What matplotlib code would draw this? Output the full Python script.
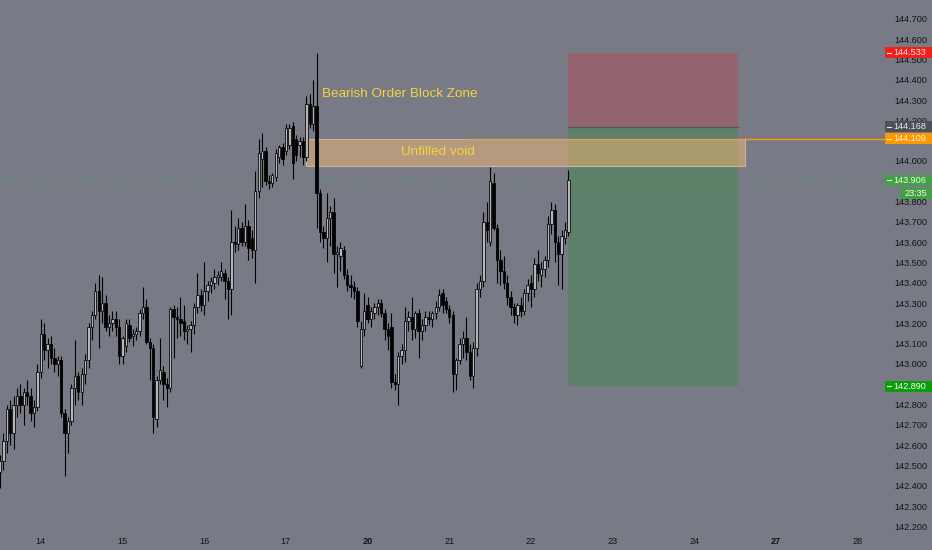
import numpy as np
import matplotlib
matplotlib.use("Agg")
import matplotlib.pyplot as plt
from matplotlib.patches import Rectangle
import matplotlib.transforms as mtransforms

# ---------------- data (hourly candles, USDJPY-like) ----------------
opens = [142.47, 142.52, 142.62, 142.78, 142.66, 142.80, 142.84, 142.80, 142.86, 142.84,
         142.76, 142.79, 142.96, 143.15, 143.07, 143.10, 143.03, 143.00, 143.02, 142.76,
         142.66, 142.72, 142.88, 142.94, 142.86, 142.95, 143.02, 143.18, 143.24, 143.36,
         143.26, 143.30, 143.18, 143.20, 143.22, 143.18, 143.04, 143.09, 143.19, 143.14,
         143.15, 143.16, 143.25, 143.28, 143.11, 143.08, 142.73, 142.92, 142.96, 142.90,
         142.88, 143.27, 143.23, 143.22, 143.21, 143.16, 143.17, 143.19, 143.28, 143.34,
         143.29, 143.36, 143.39, 143.40, 143.43, 143.43, 143.45, 143.41, 143.37, 143.60,
         143.59, 143.67, 143.60, 143.68, 143.62, 143.56, 143.85, 144.01, 144.05, 143.90,
         143.89, 143.92, 144.02, 144.07, 144.05, 144.08, 144.17, 144.11, 144.08, 144.10,
         144.02, 144.28, 144.18, 144.27, 143.84, 143.65, 143.62, 143.72, 143.75, 143.54,
         143.53, 143.56, 143.44, 143.39, 143.38, 143.36, 142.99, 143.17, 143.29, 143.22,
         143.25, 143.28, 143.30, 143.25, 143.17, 143.18, 142.91, 142.90, 143.04, 143.07,
         143.21, 143.23, 143.17, 143.25, 143.16, 143.19, 143.23, 143.22, 143.25, 143.28,
         143.35, 143.31, 143.27, 143.24, 142.95, 143.02, 143.10, 143.13, 143.06, 142.94,
         143.08, 143.37, 143.41, 143.70, 143.60, 143.89, 143.67, 143.51, 143.46, 143.40,
         143.33, 143.28, 143.24, 143.29, 143.26, 143.35, 143.40, 143.37, 143.49, 143.44,
         143.47, 143.51, 143.69, 143.76, 143.60, 143.54, 143.62, 143.65]
highs = [142.55, 142.66, 142.80, 142.82, 142.84, 142.88, 142.90, 142.88, 142.92, 142.88,
         142.82, 143.00, 143.22, 143.20, 143.13, 143.14, 143.08, 143.04, 143.04, 142.78,
         142.74, 142.90, 143.12, 142.96, 142.98, 143.05, 143.20, 143.26, 143.40, 143.44,
         143.43, 143.34, 143.24, 143.26, 143.26, 143.22, 143.14, 143.22, 143.22, 143.17,
         143.18, 143.27, 143.38, 143.32, 143.13, 143.10, 142.94, 143.13, 142.99, 142.93,
         143.28, 143.29, 143.28, 143.33, 143.29, 143.19, 143.21, 143.30, 143.45, 143.37,
         143.50, 143.41, 143.43, 143.47, 143.46, 143.50, 143.47, 143.43, 143.76, 143.68,
         143.72, 143.70, 143.79, 143.71, 143.66, 143.95, 144.11, 144.14, 144.07, 143.93,
         143.94, 144.06, 144.08, 144.09, 144.18, 144.18, 144.19, 144.13, 144.12, 144.12,
         144.32, 144.33, 144.40, 144.533, 143.86, 143.68, 143.84, 143.78, 143.82, 143.58,
         143.60, 143.58, 143.47, 143.44, 143.41, 143.38, 143.21, 143.35, 143.33, 143.28,
         143.30, 143.32, 143.32, 143.27, 143.20, 143.25, 142.95, 143.06, 143.10, 143.28,
         143.26, 143.33, 143.26, 143.27, 143.22, 143.26, 143.26, 143.26, 143.31, 143.37,
         143.37, 143.33, 143.29, 143.26, 143.03, 143.13, 143.16, 143.23, 143.10, 143.11,
         143.40, 143.44, 143.75, 143.80, 143.97, 143.94, 143.69, 143.56, 143.53, 143.44,
         143.36, 143.30, 143.30, 143.33, 143.37, 143.42, 143.44, 143.52, 143.56, 143.50,
         143.53, 143.73, 143.80, 143.79, 143.63, 143.66, 143.70, 143.955]
lows = [142.39, 142.48, 142.56, 142.60, 142.58, 142.74, 142.76, 142.70, 142.80, 142.72,
        142.69, 142.77, 142.93, 143.02, 142.98, 143.00, 142.96, 142.94, 142.74, 142.45,
        142.56, 142.70, 142.80, 142.82, 142.80, 142.90, 142.98, 143.12, 143.22, 143.08,
        143.20, 143.16, 143.14, 143.16, 143.14, 143.00, 143.00, 143.06, 143.11, 143.09,
        143.12, 143.14, 143.22, 143.10, 142.92, 142.66, 142.69, 142.90, 142.82, 142.79,
        142.86, 143.03, 143.13, 143.14, 143.12, 143.10, 143.06, 143.15, 143.25, 143.26,
        143.24, 143.31, 143.35, 143.37, 143.39, 143.41, 143.32, 143.22, 143.24, 143.55,
        143.56, 143.58, 143.58, 143.51, 143.52, 143.40, 143.82, 143.87, 143.88, 143.86,
        143.87, 143.90, 143.99, 143.98, 144.03, 144.06, 143.91, 144.00, 144.02, 143.98,
        144.00, 144.16, 144.15, 143.67, 143.60, 143.57, 143.50, 143.58, 143.45, 143.38,
        143.46, 143.42, 143.36, 143.33, 143.32, 143.18, 142.98, 143.14, 143.20, 143.18,
        143.22, 143.24, 143.23, 143.12, 143.07, 142.88, 142.87, 142.80, 143.00, 143.01,
        143.16, 143.12, 143.13, 143.03, 143.12, 143.16, 143.19, 143.18, 143.22, 143.26,
        143.25, 143.25, 143.20, 142.86, 142.87, 143.00, 143.03, 143.02, 142.92, 142.88,
        143.04, 143.33, 143.38, 143.60, 143.58, 143.66, 143.40, 143.39, 143.37, 143.29,
        143.24, 143.20, 143.19, 143.23, 143.24, 143.31, 143.28, 143.33, 143.41, 143.38,
        143.43, 143.48, 143.64, 143.50, 143.39, 143.37, 143.59, 143.63]
closes = [142.52, 142.62, 142.78, 142.66, 142.80, 142.84, 142.80, 142.86, 142.84, 142.76,
          142.79, 142.96, 143.15, 143.07, 143.10, 143.03, 143.00, 143.02, 142.76, 142.66,
          142.72, 142.88, 142.94, 142.86, 142.95, 143.02, 143.18, 143.24, 143.36, 143.26,
          143.30, 143.18, 143.20, 143.22, 143.18, 143.04, 143.13, 143.20, 143.13, 143.15,
          143.16, 143.25, 143.28, 143.11, 143.08, 142.74, 142.92, 142.97, 142.90, 142.88,
          143.27, 143.23, 143.22, 143.20, 143.16, 143.17, 143.19, 143.28, 143.34, 143.29,
          143.36, 143.39, 143.41, 143.43, 143.44, 143.46, 143.41, 143.37, 143.60, 143.59,
          143.67, 143.60, 143.68, 143.57, 143.56, 143.85, 144.04, 144.05, 143.90, 143.89,
          143.93, 144.04, 144.07, 144.01, 144.16, 144.16, 143.99, 144.03, 144.10, 144.02,
          144.28, 144.18, 144.27, 143.84, 143.65, 143.62, 143.72, 143.75, 143.54, 143.55,
          143.57, 143.44, 143.39, 143.38, 143.36, 143.21, 143.17, 143.26, 143.22, 143.26,
          143.28, 143.30, 143.25, 143.17, 143.14, 142.91, 142.90, 143.04, 143.07, 143.21,
          143.23, 143.17, 143.25, 143.16, 143.19, 143.23, 143.22, 143.25, 143.28, 143.34,
          143.29, 143.27, 143.23, 142.95, 143.02, 143.10, 143.13, 143.06, 142.94, 143.08,
          143.37, 143.41, 143.70, 143.66, 143.90, 143.67, 143.51, 143.46, 143.40, 143.33,
          143.28, 143.24, 143.29, 143.26, 143.35, 143.39, 143.37, 143.49, 143.45, 143.47,
          143.51, 143.69, 143.76, 143.60, 143.54, 143.63, 143.66, 143.906]

day_labels = ["14", "15", "16", "17", "20", "21", "22", "23", "24", "27", "28"]
day_index = [12, 36, 60, 84, 108, 132, 156, 180, 204, 228, 252]
bold_days = ["20", "27"]

price_ticks = [142.2, 142.3, 142.4, 142.5, 142.6, 142.7, 142.8, 142.9, 143.0, 143.1, 143.2,
               143.3, 143.4, 143.5, 143.6, 143.7, 143.8, 143.9, 144.0, 144.1, 144.2, 144.3,
               144.4, 144.5, 144.6, 144.7]
hidden_ticks = [142.9, 143.9, 144.1]  # fully covered by price labels in the reference

stop_price = 144.533
entry_price = 144.168
target_price = 142.890
void_top = 144.109
void_bottom = 143.975
last_price = 143.906
countdown = "23:35"
pos_start, pos_end = 167, 216.8
void_start, void_end = 89.9, 218.9

# ---------------- figure ----------------
BG = "#787b86"
W, H = 932, 550
fig = plt.figure(figsize=(W / 100, H / 100), dpi=100)
fig.patch.set_facecolor(BG)
ax = fig.add_axes([0, 20 / H, 885 / W, 530 / H])
ax.set_facecolor(BG)
for s in ax.spines.values():
    s.set_visible(False)

FONT = "Liberation Sans"
O = np.array(opens); Hh = np.array(highs); L = np.array(lows); C = np.array(closes)
idx = np.arange(len(C))

ax.set_xlim(0, 260.0)
ax.set_ylim(142.182, 144.793)

# position boxes
ax.add_patch(Rectangle((pos_start, entry_price), pos_end - pos_start, stop_price - entry_price,
                       facecolor="#946570", edgecolor="none", zorder=1))
ax.add_patch(Rectangle((pos_start, target_price), pos_end - pos_start, entry_price - target_price,
                       facecolor="#5e806a", edgecolor="none", zorder=1))
ax.plot([pos_start, pos_end], [entry_price, entry_price], color="#555862", lw=1.0, zorder=1.2)

# unfilled void box (solid pieces: over background and over green box)
vh = void_top - void_bottom
ax.add_patch(Rectangle((void_start, void_bottom), pos_start - void_start, vh,
                       facecolor="#b69a7d", edgecolor="none", zorder=1.1))
ax.add_patch(Rectangle((pos_start, void_bottom), pos_end - pos_start, vh,
                       facecolor="#a99a6e", edgecolor="none", zorder=1.1))
ax.add_patch(Rectangle((pos_end, void_bottom), void_end - pos_end, vh,
                       facecolor="#b69a7d", edgecolor="none", zorder=1.1))
ax.add_patch(Rectangle((void_start, void_bottom), void_end - void_start, vh,
                       facecolor="none", edgecolor="#c8b49a", lw=0.8, zorder=1.15))

# last price dotted line
ax.axhline(last_price, color="#43a047", lw=0.8, ls=(0, (2, 2)), zorder=1.3)
# orange horizontal ray
ax.plot([void_end, 260], [void_top, void_top], color="#ff9800", lw=1.0, zorder=1.3)
ax.plot([pos_start - 30, void_end], [void_top, void_top], color="#e0a060", lw=0.8, zorder=1.3)

# candles
ax.vlines(idx, L, Hh, color="black", lw=0.8, zorder=2)
up = C >= O
body = np.maximum(np.abs(C - O), 0.004)
bottom = np.minimum(O, C)
ax.bar(idx[up], body[up], bottom=bottom[up], width=0.7, color="#b3b5bb",
       edgecolor="black", lw=0.55, zorder=3)
ax.bar(idx[~up], body[~up], bottom=bottom[~up], width=0.7, color="black",
       edgecolor="black", lw=0.55, zorder=3)

# annotations
ax.text(94.6, 144.33, "Bearish Order Block Zone", color="#f3d440", fontsize=9.7,
        family=FONT, ha="left", va="center", zorder=5)
ax.text(128.7, (void_top + void_bottom) / 2, "Unfilled void", color="#f3d440", fontsize=9.7,
        family=FONT, ha="center", va="center", zorder=5)

# axes ticks
ax.yaxis.tick_right()
ax.set_yticks(price_ticks)
ax.set_yticklabels(["" if any(abs(p - h) < 1e-6 for h in hidden_ticks) else f"{p:.3f}"
                    for p in price_ticks], family=FONT, fontsize=6.6, color="#141414")
ax.tick_params(axis="y", length=0, pad=6.4)
ax.set_xticks(day_index)
ax.set_xticklabels(day_labels, family=FONT, fontsize=6.6, color="#141414")
for t in ax.get_xticklabels():
    if t.get_text() in bold_days:
        t.set_fontweight("bold")
ax.tick_params(axis="x", length=0, pad=5.3)

# price-axis labels
trans = mtransforms.blended_transform_factory(fig.transFigure, ax.transData)
ppx = 530 / (144.793 - 142.182)


def axis_label(price, text, face, tc, x0=885, hpx=11, dash=True, yoff=0.0):
    yc = price + yoff
    h = hpx / ppx
    fig.add_artist(Rectangle((x0 / W, yc - h / 2), 1 - x0 / W, h, transform=trans,
                             facecolor=face, edgecolor="none", zorder=5))
    if dash:
        fig.add_artist(plt.Line2D([887 / W, 891 / W], [yc, yc], transform=trans,
                                  color=tc, lw=0.8, zorder=6))
    xc = (x0 + W) / 2 / W if not dash else 909.5 / W
    fig.text(xc, yc, text, transform=trans, ha="center", va="center", color=tc,
             fontsize=6.6, family=FONT, zorder=7)


axis_label(stop_price, f"{stop_price:.3f}", "#f0201a", "#ffe8e0")
axis_label(entry_price, f"{entry_price:.3f}", "#4e5059", "#e8e8e8")
axis_label(void_top, f"{void_top:.3f}", "#ff9800", "#fff6d0")
axis_label(last_price, f"{last_price:.3f}", "#43a047", "#e8ffd8")
axis_label(last_price, countdown, "#43a047", "#e8ffd8", x0=900, dash=False, yoff=-13 / ppx)
axis_label(target_price, f"{target_price:.3f}", "#0b9e0b", "#f0fff0")

fig.savefig("out.png", dpi=100, facecolor=BG)
